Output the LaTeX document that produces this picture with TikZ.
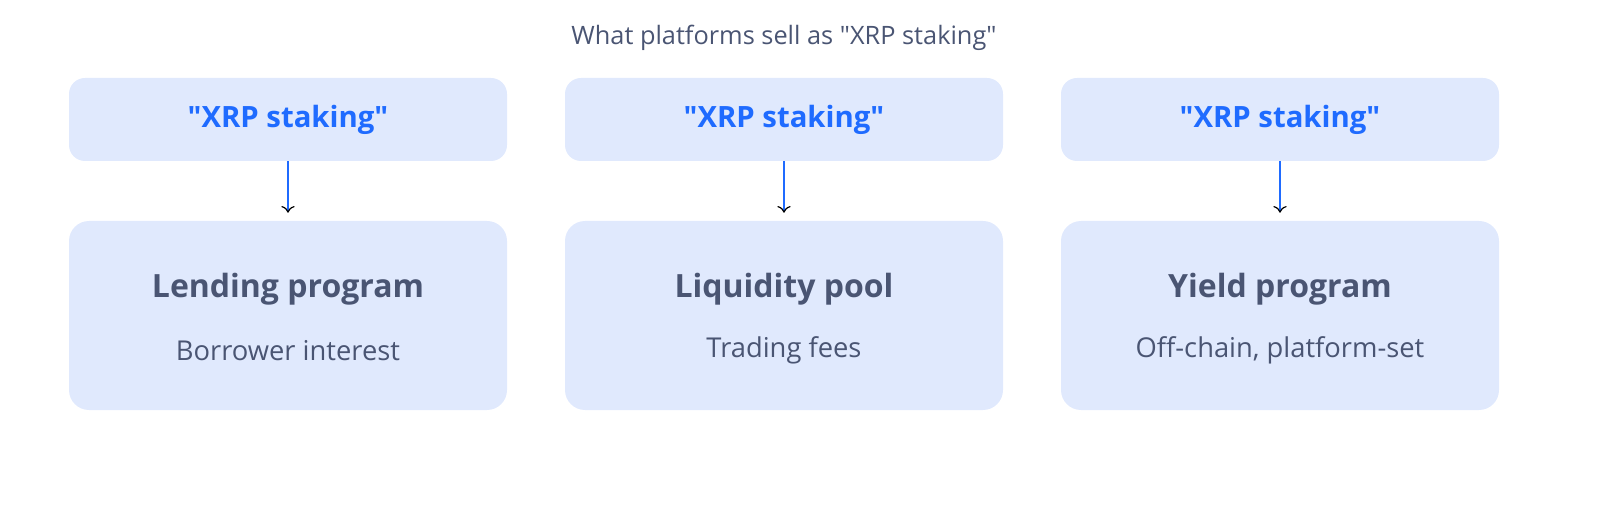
\documentclass[tikz,border=0pt]{standalone}
\usepackage{fontspec}
\setmainfont{Open Sans}
\usetikzlibrary{arrows.meta,positioning}

\definecolor{boxfill}{HTML}{E0E9FD}
\definecolor{tagblue}{HTML}{1F6BFF}
\definecolor{slate}{HTML}{4A5573}

\begin{document}
\begin{tikzpicture}[x=0.75pt,y=-0.75pt,node distance=372pt,on grid,
     tag/.style={fill=boxfill,rounded corners=12pt,minimum width=328.5pt,minimum height=62.25pt,
       text=tagblue,font=\fontsize{22}{26}\selectfont\bfseries},
     kind/.style={fill=boxfill,rounded corners=15pt,minimum width=328.5pt,minimum height=141.75pt},
     head/.style={text=slate,font=\fontsize{24}{28}\selectfont\bfseries},
     note/.style={text=slate,font=\fontsize{20.5}{24}\selectfont},
     flow/.style={draw=tagblue,line width=1.2pt,-{To[color=black,length=5pt,width=10pt,line width=0.9pt]}}]

    \useasboundingbox (0,0) rectangle (1600,513);

    \node[text=slate,font=\fontsize{19}{23}\selectfont] (title) at (784,38) {What platforms sell as \textquotedbl XRP staking\textquotedbl};

    % top row
    \node[tag] (t1) at (288,119.5) {\textquotedbl XRP staking\textquotedbl};
    \node[tag] (t2) [right =of t1] {\textquotedbl XRP staking\textquotedbl};
    \node[tag] (t3) [right =of t2] {\textquotedbl XRP staking\textquotedbl};

    % what it really is
    \node[kind] (k1) [below =147pt of t1] {};
    \node[kind] (k2) [below =147pt of t2] {};
    \node[kind] (k3) [below =147pt of t3] {};

    \node[head] (h1) at ([yshift=20pt]k1.center) {Lending program};
    \node[head] (h2) at ([yshift=20pt]k2.center) {Liquidity pool};
    \node[head] (h3) at ([yshift=20pt]k3.center) {Yield program};

    \node[note] (n1) at ([yshift=-26pt]k1.center) {Borrower interest};
    \node[note] (n2) at ([yshift=-26pt]k2.center) {Trading fees};
    \node[note] (n3) at ([yshift=-26pt]k3.center) {Off-chain, platform-set};

    \foreach \i in {1,2,3}
      \draw[flow] (t\i.south) -- ([yshift=6pt]k\i.north);

\end{tikzpicture}
\end{document}
